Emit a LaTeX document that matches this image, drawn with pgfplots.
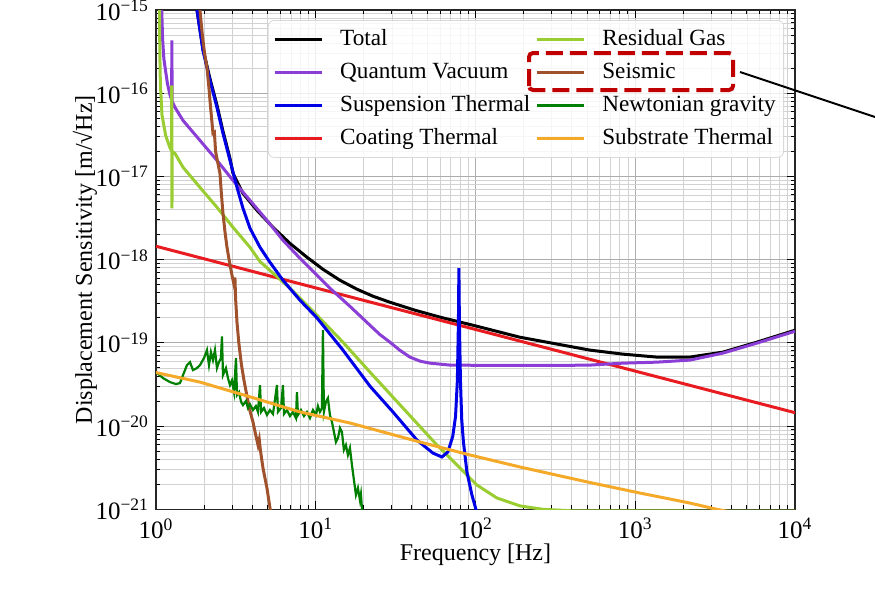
\documentclass[border=0pt]{standalone}
\usepackage{fontspec}
\setmainfont{Liberation Serif}
\usepackage{pgfplots}
\pgfplotsset{compat=1.18}

\definecolor{cTotal}{RGB}{0,0,0}
\definecolor{cQuant}{RGB}{138,62,214}
\definecolor{cSusp}{RGB}{0,0,230}
\definecolor{cCoat}{RGB}{232,28,32}
\definecolor{cGas}{RGB}{154,205,50}
\definecolor{cSeis}{RGB}{160,82,45}
\definecolor{cNewt}{RGB}{0,128,0}
\definecolor{cSubs}{RGB}{244,170,40}
\definecolor{cMark}{RGB}{192,0,0}

\begin{document}
\begin{tikzpicture}
\path[use as bounding box] (-78pt,-49pt) rectangle (359.5pt,254.65pt);
\clip (-78pt,-49pt) rectangle (359.5pt,254.65pt);
\begin{axis}[
  at={(0pt,0pt)}, anchor=south west,
  scale only axis, width=319.5pt, height=249.65pt,
  xmode=log, ymode=log,
  xmin=1, xmax=10000, ymin=1e-21, ymax=1e-15,
  xtick={1,10,100,1000,10000},
  xticklabels={10\textsuperscript{0},10\textsuperscript{1},10\textsuperscript{2},10\textsuperscript{3},10\textsuperscript{4}},
  minor xtick={2,3,4,5,6,7,8,9,20,30,40,50,60,70,80,90,200,300,400,500,600,700,800,900,2000,3000,4000,5000,6000,7000,8000,9000},
  ytick={1e-21,1e-20,1e-19,1e-18,1e-17,1e-16,1e-15},
  yticklabels={10\textsuperscript{−21},10\textsuperscript{−20},10\textsuperscript{−19},10\textsuperscript{−18},10\textsuperscript{−17},10\textsuperscript{−16},10\textsuperscript{−15}},
  minor ytick={2e-21,3e-21,4e-21,5e-21,6e-21,7e-21,8e-21,9e-21,
    2e-20,3e-20,4e-20,5e-20,6e-20,7e-20,8e-20,9e-20,
    2e-19,3e-19,4e-19,5e-19,6e-19,7e-19,8e-19,9e-19,
    2e-18,3e-18,4e-18,5e-18,6e-18,7e-18,8e-18,9e-18,
    2e-17,3e-17,4e-17,5e-17,6e-17,7e-17,8e-17,9e-17,
    2e-16,3e-16,4e-16,5e-16,6e-16,7e-16,8e-16,9e-16},
  grid=both,
  major grid style={gray!65, line width=0.5pt},
  minor grid style={gray!35, line width=0.4pt},
  tick align=inside,
  major tick length=4pt, minor tick length=2pt,
  tick style={black, line width=0.5pt},
  axis line style={black!85, line width=0.6pt},
  ticklabel style={font=\fontsize{12.5}{14}\selectfont},
  xticklabel style={yshift=-1pt},
  xlabel={Frequency [Hz]},
  ylabel={Displacement Sensitivity [m/√Hz]},
  label style={font=\fontsize{12}{14}\selectfont},
  xlabel style={at={(axis description cs:0.5,-0.092)}, anchor=center},
  ylabel style={at={(axis description cs:-0.111,0.5)}, anchor=center},
  legend columns=2,
  legend cell align=left,
  legend image code/.code={\draw[#1] (0pt,0pt) -- (23.5pt,0pt);},
  legend style={at={(axis description cs:0.175,0.98)}, anchor=north west,
    draw=black!15, rounded corners=3pt, fill=white, fill opacity=0.8, text opacity=1,
    font=\fontsize{11.6}{14}\selectfont, inner xsep=2.5pt, inner ysep=2pt,
    nodes={inner sep=1.5pt, text height=9pt, text depth=3pt}, row sep=1.5pt,
    /tikz/every odd column/.append style={column sep=7pt},
    /tikz/every even column/.append style={column sep=1pt}},
  every axis plot/.append style={line width=1.5pt},
]

% legend, in the order of the reference's two columns
\addlegendimage{cTotal, line width=1.5pt}\addlegendentry{Total}
\addlegendimage{cGas, line width=1.5pt}\addlegendentry{Residual Gas}
\addlegendimage{cQuant, line width=1.5pt}\addlegendentry{Quantum Vacuum}
\addlegendimage{cSeis, line width=1.5pt}\addlegendentry{Seismic}
\addlegendimage{cSusp, line width=1.5pt}\addlegendentry{Suspension Thermal}
\addlegendimage{cNewt, line width=1.5pt}\addlegendentry{Newtonian gravity}
\addlegendimage{cCoat, line width=1.5pt}\addlegendentry{Coating Thermal}
\addlegendimage{cSubs, line width=1.5pt}\addlegendentry{Substrate Thermal}

% Total
\addplot[cTotal, forget plot] coordinates {
  (1.78,1.3e-15) (1.805,1e-15) (1.968,3.4e-16) (2.177,1.5e-16) (2.408,7.2e-17)
  (2.626,3.5e-17) (2.905,1.65e-17) (3.033,1.09e-17) (3.504,6.26e-18) (4.285,3.92e-18)
  (5.398,2.45e-18) (6.895,1.57e-18) (8.81,1.07e-18) (11.09,7.67e-19) (14.17,5.66e-19)
  (18.1,4.42e-19) (22.8,3.64e-19) (29.13,3.08e-19) (41.8,2.47e-19) (59.9,2.04e-19)
  (96.3,1.63e-19) (189.6,1.17e-19) (520,8.19e-20) (836,7.33e-20) (1365,6.75e-20)
  (2196,6.75e-20) (3533,7.74e-20) (5768,1.02e-19) (10000,1.42e-19)
};

% Coating Thermal
\addplot[cCoat, forget plot] coordinates {
  (1,1.45e-18) (10,4.58e-19) (100,1.45e-19) (1000,4.58e-20) (10000,1.45e-20)
};

% Quantum Vacuum
\addplot[cQuant, forget plot] coordinates {
  (1.07,1.5e-15) (1.086,1e-15) (1.10,4.5e-16) (1.12,2.6e-16) (1.14,2.04e-16)
  (1.18,1.3e-16) (1.224,9.5e-17) (1.252,8.4e-17) (1.2575,4.31e-16) (1.2615,8.0e-17)
  (1.315,6.75e-17) (1.476,4.71e-17) (1.885,2.71e-17) (2.408,1.56e-17) (3.033,8.97e-18)
  (3.874,5.16e-18) (4.95,2.97e-18) (6.233,1.71e-18) (7.965,1.04e-18) (12.27,4.54e-19)
  (16.37,2.75e-19) (21.84,1.63e-19) (25.2,1.26e-19) (29.13,1.02e-19) (33.5,8.19e-20)
  (38.86,6.75e-20) (44.9,6.04e-20) (51.84,5.71e-20) (69.15,5.41e-20)
  (150,5.35e-20) (300,5.35e-20) (520,5.41e-20) (836,5.71e-20) (1365,5.87e-20)
  (2196,6.21e-20) (3533,7.53e-20) (5768,9.93e-20) (10000,1.38e-19)
};

% Residual Gas
\addplot[cGas, forget plot] coordinates {
  (1.04,1.5e-15) (1.052,1e-15) (1.057,3e-16) (1.065,1.3e-16) (1.09,5.5e-17)
  (1.15,3.1e-17) (1.224,2.2e-17) (1.25,2.05e-17) (1.255,1.24e-16) (1.259,4.14e-18)
  (1.263,2.0e-17) (1.315,1.89e-17) (1.476,1.29e-17) (1.885,7.39e-18) (2.408,4.26e-18)
  (3.033,2.45e-18) (3.874,1.41e-18) (4.476,9.5e-19) (6.895,4.54e-19) (10.17,2.15e-19)
  (14.8,1.02e-19) (21.84,4.46e-20) (35.13,1.65e-20) (57.33,5.93e-21) (76.48,3.41e-21)
  (102,1.96e-21) (136.1,1.37e-21) (189.6,1.1e-21) (264,1.0e-21) (400,9.6e-22)
  (10000,9.5e-22)
};

% Suspension Thermal
\addplot[cSusp, forget plot] coordinates {
  (1.78,1.4e-15) (1.805,1e-15) (1.968,3.27e-16) (2.177,1.42e-16) (2.408,6.75e-17)
  (2.626,3.29e-17) (2.905,1.56e-17) (3.214,7.39e-18) (3.504,4.14e-18) (3.874,2.39e-18)
  (4.476,1.41e-18) (5.169,9.3e-19) (6.233,5.66e-19) (7.965,3.26e-19) (10.17,2.0e-19)
  (14.8,8.19e-20) (21.84,3.02e-20) (30.42,1.48e-20) (42.98,6.8e-21) (54.13,4.74e-21)
  (61.63,4.26e-21) (67.19,4.89e-21) (72,7.5e-21) (75,1.3e-20) (77,3.5e-20)
  (78.2,1.8e-19) (78.72,7.89e-19) (79.3,1.8e-19) (80.5,3.5e-20) (82,1.2e-20)
  (84,6.5e-21) (88.37,2.81e-21) (94.95,1.49e-21) (100.6,1e-21) (110,6e-22)
};

% Seismic
\addplot[cSeis, forget plot] coordinates {
  (1.85,1.4e-15) (1.885,1e-15) (1.95,5.0e-16) (2.02,2.9e-16) (2.085,2.04e-16)
  (2.15,1.1e-16) (2.2,6.5e-17) (2.24,4.5e-17) (2.273,3.3e-17) (2.32,3.4e-17)
  (2.36,2.0e-17) (2.43,1.5e-17) (2.514,1.09e-17) (2.57,6e-18) (2.626,3.61e-18)
  (2.70,2.2e-18) (2.782,1.41e-18) (2.88,9.5e-19) (2.99,6.5e-19) (3.08,5.0e-19)
  (3.12,6.1e-19) (3.15,3.4e-19) (3.214,1.77e-19) (3.30,1.0e-19) (3.43,5.41e-20)
  (3.55,3.6e-20) (3.70,2.36e-20) (3.85,1.6e-20) (4.046,1.12e-20) (4.2,8.0e-21)
  (4.35,5.93e-21) (4.43,6.9e-21) (4.50,5.2e-21) (4.674,3.14e-21) (4.95,1.8e-21)
  (5.169,1.04e-21) (5.35,7e-22)
};

% Newtonian gravity
\addplot[cNewt, forget plot, line width=1.1pt] coordinates {
  (1.0,4.46e-20) (1.106,3.78e-20) (1.224,3.38e-20) (1.334,3.2e-20) (1.413,3.29e-20)
  (1.476,4.10e-20) (1.563,5.41e-20) (1.632,5.87e-20) (1.704,4.71e-20) (1.805,4.98e-20)
  (1.885,5.41e-20) (1.997,6.56e-20) (2.085,8.19e-20) (2.146,5.41e-20) (2.208,7.74e-20)
  (2.273,6.21e-20) (2.34,8.19e-20) (2.408,4.98e-20) (2.478,5.87e-20) (2.55,6.56e-20)
  (2.588,1.2e-19) (2.626,4.10e-20) (2.74,4.98e-20) (2.822,3.78e-20) (2.905,3.11e-20)
  (2.99,3.55e-20) (3.08,2.56e-20) (3.168,6.56e-20) (3.214,2.36e-20) (3.31,2.56e-20)
  (3.41,1.95e-20) (3.504,1.79e-20) (3.66,2.0e-20) (3.764,1.65e-20) (3.874,1.83e-20)
  (4.046,1.56e-20) (4.22,1.74e-20) (4.35,1.48e-20) (4.476,3.11e-20) (4.55,1.48e-20)
  (4.74,1.65e-20) (4.95,1.36e-20) (5.169,1.56e-20) (5.398,1.4e-20) (5.717,3.11e-20)
  (5.8,1.48e-20) (6.06,1.65e-20) (6.233,3.11e-20) (6.33,1.4e-20) (6.603,1.56e-20)
  (6.895,1.32e-20) (7.2,1.48e-20) (7.52,1.25e-20) (7.627,2.56e-20) (7.74,1.36e-20)
  (8.08,1.56e-20) (8.44,1.32e-20) (8.81,1.48e-20) (9.2,1.25e-20) (9.605,1.56e-20)
  (10.03,1.36e-20) (10.32,1.74e-20) (10.62,1.48e-20) (10.93,1.65e-20) (11.09,1.42e-19)
  (11.25,1.48e-20) (11.58,1.95e-20) (11.92,2.17e-20) (12.27,1.36e-20) (12.63,1.12e-20)
  (13.0,8.49e-21) (13.38,6.44e-21) (13.78,7.19e-21) (14.18,9.48e-21) (14.59,8.49e-21)
  (15.0,5.2e-21) (15.45,5.93e-21) (15.9,4.5e-21) (16.37,5.46e-21) (16.85,3.41e-21)
  (17.34,2.25e-21) (17.85,1.49e-21) (18.37,1.8e-21) (18.91,1.29e-21) (19.18,1.52e-21)
  (19.46,1.04e-21) (19.75,7.5e-22)
};

% Substrate Thermal
\addplot[cSubs, forget plot] coordinates {
  (1,4.40e-20) (1.885,3.38e-20) (3.874,2.25e-20) (7.965,1.48e-20) (16.37,1.09e-20)
  (44.88,6.44e-21) (92.24,4.5e-21) (189.6,3.23e-21) (520,2.1e-21) (1069,1.57e-21)
  (2196,1.19e-21) (3240,1.0e-21) (10000,6.5e-22)
};
\end{axis}

% highlight around the Seismic legend entry and its pointer
\draw[cMark, line width=2pt, dash pattern=on 8.5pt off 3.5pt, rounded corners=2pt]
  (186.5pt,209.65pt) rectangle (288.5pt,228.15pt);
\draw[black, line width=1pt] (292pt,218.65pt) -- (400pt,182.65pt);
\end{tikzpicture}
\end{document}
